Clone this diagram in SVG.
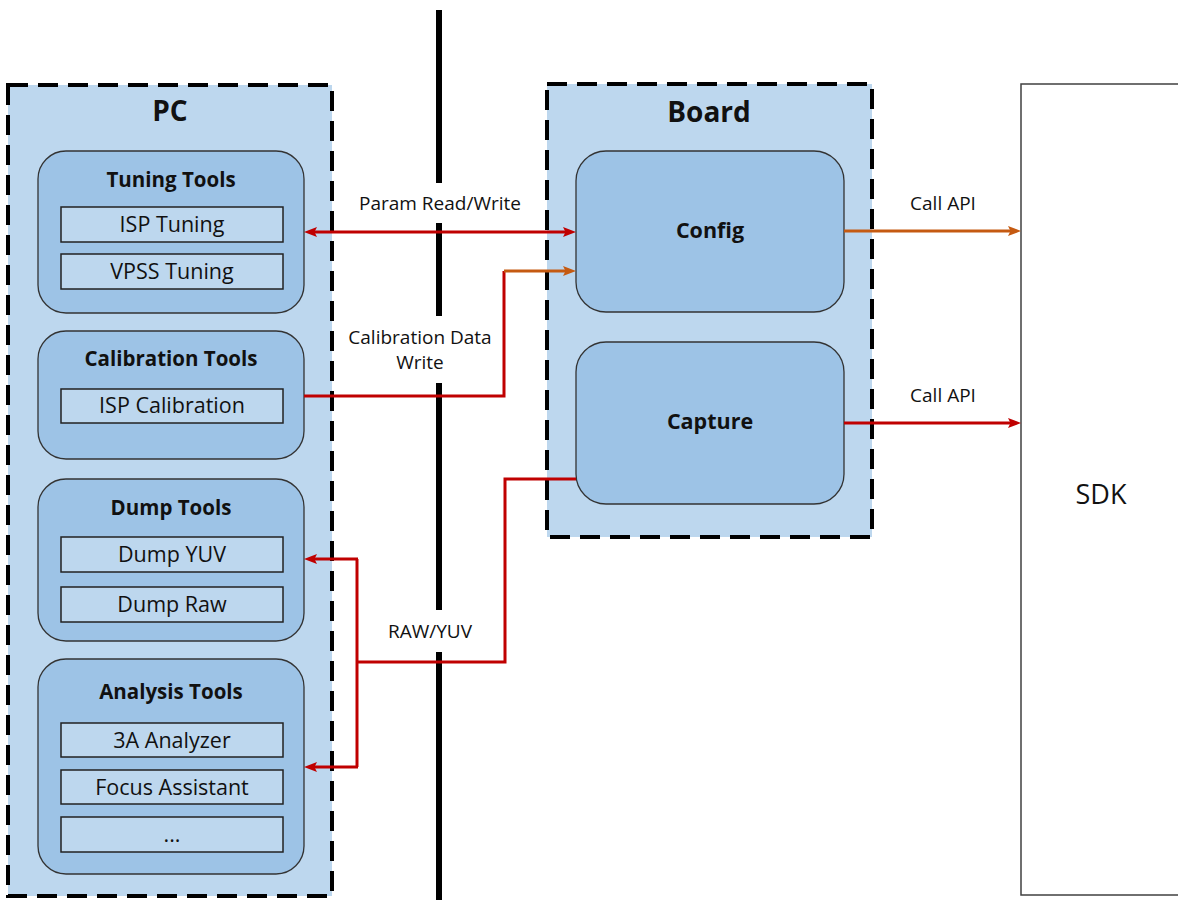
<svg xmlns="http://www.w3.org/2000/svg" width="1178" height="900" viewBox="0 0 1178 900">
<style>
.cont{fill:#BDD7EE;stroke:#000;stroke-width:4;stroke-dasharray:20 10}
.grp{fill:#9DC3E6;stroke:#333;stroke-width:1.3}
.item{fill:#BDD7EE;stroke:#222;stroke-width:1.5}
.t{font-family:"Open Sans",Lato,sans-serif;fill:#111;text-anchor:middle}
.big{font-size:28px;font-weight:bold}
.h{font-size:20.5px;font-weight:bold}
.hh{font-size:21.5px;font-weight:bold}
.i{font-size:21.5px}
.lbl{font-size:19px}
.red{fill:none;stroke:#C00000;stroke-width:3}
.org{fill:none;stroke:#C55A11;stroke-width:3}
</style>
<defs>
<marker id="ar" viewBox="0 0 13 10" refX="5" refY="5" markerWidth="13" markerHeight="10" markerUnits="userSpaceOnUse" orient="auto-start-reverse"><path d="M0,0 L13,5 L0,10 L2.5,5 z" fill="#C00000"/></marker>
<marker id="ao" viewBox="0 0 13 10" refX="5" refY="5" markerWidth="13" markerHeight="10" markerUnits="userSpaceOnUse" orient="auto-start-reverse"><path d="M0,0 L13,5 L0,10 L2.5,5 z" fill="#C55A11"/></marker>
</defs>
<rect width="1178" height="900" fill="#fff"/>
<g id="divider" fill="#000">
<rect x="436" y="10" width="6" height="173"/>
<rect x="436" y="223" width="6" height="93"/>
<rect x="436" y="383" width="6" height="227"/>
<rect x="436" y="652" width="6" height="248"/>
</g>
<g id="pc">
<rect class="cont" x="8" y="85" width="324" height="811"/>
<text class="t big" x="170" y="121">PC</text>
</g>
<g id="tuning">
<rect class="grp" x="38" y="151" width="266" height="162" rx="28"/>
<text class="t h" x="171" y="187">Tuning Tools</text>
<rect class="item" x="61" y="207" width="222" height="35"/>
<text class="t i" x="172" y="232">ISP Tuning</text>
<rect class="item" x="61" y="254" width="222" height="35"/>
<text class="t i" x="172" y="279">VPSS Tuning</text>
</g>
<g id="calibration">
<rect class="grp" x="38" y="331" width="266" height="128" rx="28"/>
<text class="t h" x="171" y="366">Calibration Tools</text>
<rect class="item" x="61" y="389" width="222" height="34"/>
<text class="t i" x="172" y="413">ISP Calibration</text>
</g>
<g id="dump">
<rect class="grp" x="38" y="479" width="266" height="162" rx="28"/>
<text class="t h" x="171" y="515">Dump Tools</text>
<rect class="item" x="61" y="537" width="222" height="35"/>
<text class="t i" x="172" y="562">Dump YUV</text>
<rect class="item" x="61" y="587" width="222" height="35"/>
<text class="t i" x="172" y="612">Dump Raw</text>
</g>
<g id="analysis">
<rect class="grp" x="38" y="659" width="266" height="215" rx="28"/>
<text class="t h" x="171" y="699">Analysis Tools</text>
<rect class="item" x="61" y="723" width="222" height="34"/>
<text class="t i" x="172" y="748">3A Analyzer</text>
<rect class="item" x="61" y="770" width="222" height="34"/>
<text class="t i" x="172" y="795">Focus Assistant</text>
<rect class="item" x="61" y="817" width="222" height="35"/>
<text class="t i" x="172" y="842">...</text>
</g>
<g id="board">
<rect class="cont" x="547" y="84" width="325" height="453"/>
<text class="t big" x="709" y="122">Board</text>
</g>
<g id="config">
<rect class="grp" x="576" y="151" width="268" height="161" rx="30"/>
<text class="t hh" x="710" y="238">Config</text>
</g>
<g id="capture">
<rect class="grp" x="576" y="342" width="268" height="162" rx="30"/>
<text class="t hh" x="710" y="429">Capture</text>
</g>
<g id="sdk">
<rect x="1021" y="84" width="170" height="811" fill="#fff" stroke="#404040" stroke-width="1.5"/>
<text class="t" x="1101" y="504" font-size="27">SDK</text>
</g>
<g id="connectors">
<path class="red" d="M312,232 L568,232" marker-start="url(#ar)" marker-end="url(#ar)"/>
<text class="t lbl" x="440" y="210">Param Read/Write</text>
<path class="red" d="M304,396 L504,396 L504,271"/>
<path class="org" d="M504,271 L568,271" marker-end="url(#ao)"/>
<text class="t lbl" x="420" y="344">Calibration Data</text>
<text class="t lbl" x="420" y="369">Write</text>
<path class="org" d="M844,231 L1013,231" marker-end="url(#ao)"/>
<text class="t lbl" x="943" y="210">Call API</text>
<path class="red" d="M844,423 L1013,423" marker-end="url(#ar)"/>
<text class="t lbl" x="943" y="402">Call API</text>
<path class="red" d="M576,479 L505,479 L505,662 L357,662"/>
<path class="red" d="M357,559 L357,767"/>
<path class="red" d="M358,559 L312,559" marker-end="url(#ar)"/>
<path class="red" d="M358,767 L312,767" marker-end="url(#ar)"/>
<text class="t lbl" x="430" y="638">RAW/YUV</text>
</g>
</svg>
